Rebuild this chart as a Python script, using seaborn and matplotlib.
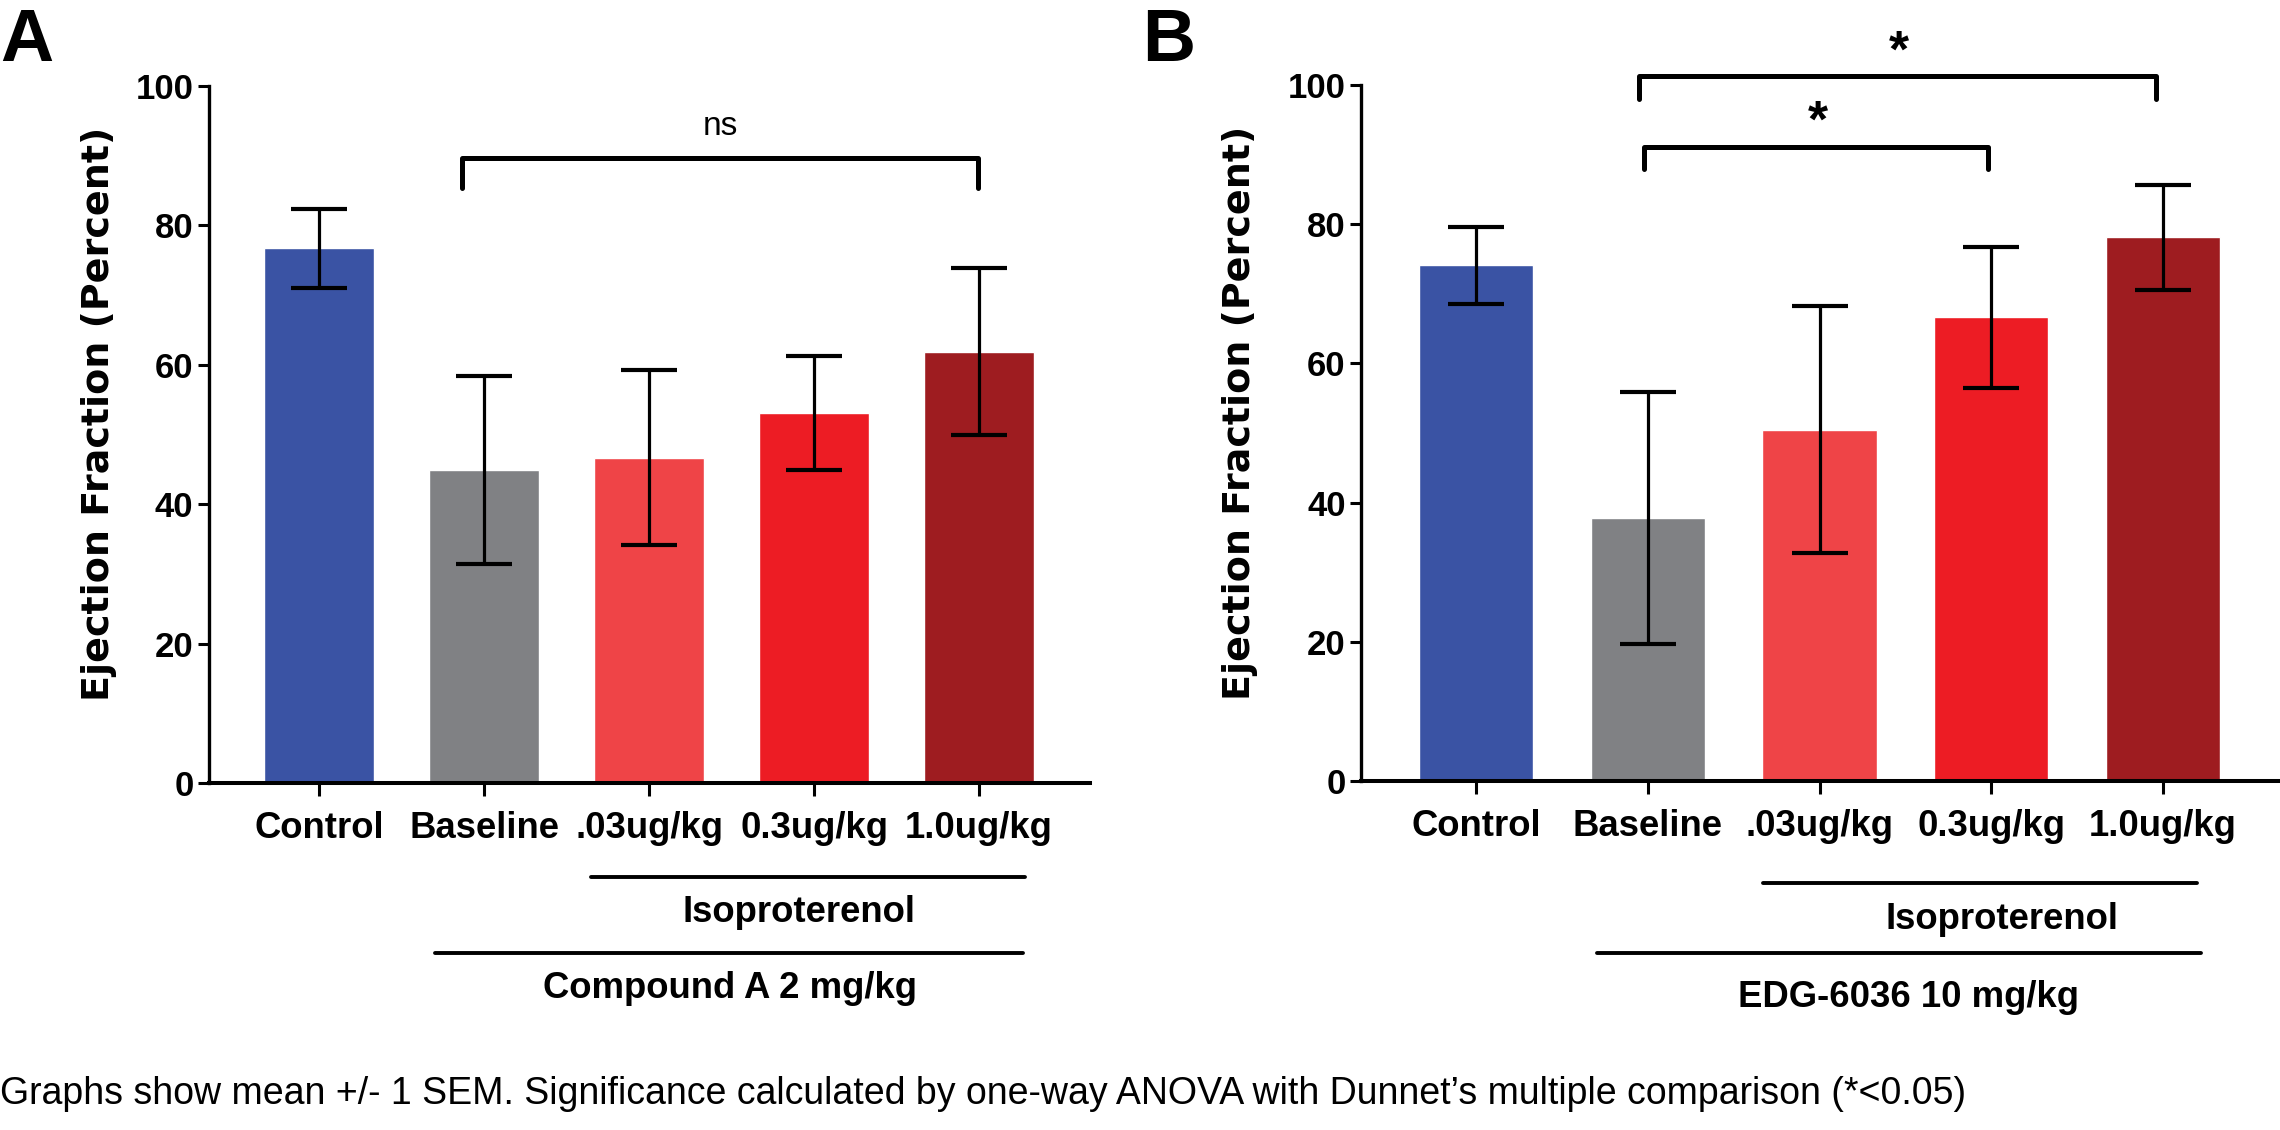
import matplotlib
matplotlib.use("Agg")
import matplotlib.pyplot as plt
import matplotlib.transforms as mtransforms
import seaborn as sns
import pandas as pd

# data
groups = ["Control", "Baseline", ".03ug/kg", "0.3ug/kg", "1.0ug/kg"]
colors = ["#3A53A4", "#808184", "#EF4447", "#ED1C24", "#9E1C20"]

mean_a = [76.7, 44.9, 46.7, 53.1, 61.9]
sem_a = [5.7, 13.5, 12.6, 8.2, 12.0]

mean_b = [74.1, 37.8, 50.5, 66.6, 78.1]
sem_b = [5.5, 18.1, 17.7, 10.1, 7.6]

yticks = [0, 20, 40, 60, 80, 100]

black = {"axes.edgecolor": "black", "text.color": "black", "xtick.color": "black",
         "ytick.color": "black", "axes.labelcolor": "black"}
sns.set_style("ticks", black)
plt.rcParams["font.family"] = ["Liberation Sans", "DejaVu Sans"]

fig = plt.figure(figsize=(22.8, 11.3), dpi=100)
axA = fig.add_axes([208.7 / 2280, 1 - 783 / 1130, 881 / 2280, 697 / 1130])
axB = fig.add_axes([1361 / 2280, 1 - 781 / 1130, 917 / 2280, 696 / 1130])


def draw_panel(ax, means, sems):
    df = pd.DataFrame({"group": groups, "ef": means})
    sns.barplot(data=df, x="group", y="ef", hue="group", palette=colors,
                width=0.667, legend=False, ax=ax, errorbar=None, saturation=1)
    ax.errorbar(range(len(groups)), means, yerr=sems, fmt="none", ecolor="black",
                elinewidth=2.3, capsize=20, capthick=3.0, clip_on=False)
    ax.set_xlim(-0.67, len(groups) - 0.33)
    ax.set_ylim(0, 100)
    ax.set_yticks(yticks)
    ax.set_xlabel("")
    ax.set_ylabel("Ejection Fraction (Percent)", family="DejaVu Sans",
                  fontweight="bold", fontsize=27.4)
    sns.despine(ax=ax)
    ax.spines["left"].set_linewidth(2.4)
    ax.spines["bottom"].set_linewidth(2.9)
    ax.tick_params(axis="y", length=8, width=2.2, pad=3, labelsize=25)
    ax.tick_params(axis="x", length=9.4, width=2.2, pad=10.5, labelsize=26.3)
    for lab in ax.get_xticklabels() + ax.get_yticklabels():
        lab.set_fontweight("bold")


def bracket(ax, x0, x1, top, leg, label, ty, tx, size, weight):
    ax.plot([x0, x0, x1, x1], [leg, top, top, leg], color="black", lw=3.6,
            clip_on=False, solid_joinstyle="round")
    ax.text(tx, ty, label, ha="center", va="center", fontsize=size,
            fontweight=weight, clip_on=False)


def group_line(ax, x0, x1, y_line, y_text, tx, label):
    trans = mtransforms.blended_transform_factory(ax.transData, ax.transAxes)
    ax.plot([x0, x1], [y_line, y_line], color="black", lw=2.8,
            transform=trans, clip_on=False)
    ax.text(tx, y_text, label, transform=trans, ha="center", va="baseline",
            fontsize=26.3, fontweight="bold")


draw_panel(axA, mean_a, sem_a)
axA.yaxis.set_label_coords(-0.104, 0.529)
bracket(axA, 0.863, 3.99, 89.6, 85.3, "ns", 94.2, 2.43, 24, "normal")
group_line(axA, 1.645, 4.28, -0.1344, -0.199, 2.905, "Isoproterenol")
group_line(axA, 0.70, 4.265, -0.244, -0.3085, 2.49, "Compound A 2 mg/kg")

draw_panel(axB, mean_b, sem_b)
axB.yaxis.set_label_coords(-0.112, 0.529)
bracket(axB, 0.95, 3.96, 101.3, 98.0, "*", 104.6, 2.46, 37, "bold")
bracket(axB, 0.98, 2.98, 91.1, 87.9, "*", 94.5, 1.99, 37, "bold")
group_line(axB, 1.67, 4.20, -0.146, -0.213, 3.06, "Isoproterenol")
group_line(axB, 0.706, 4.22, -0.247, -0.3243, 2.52, "EDG-6036 10 mg/kg")

fig.text(0.0, 1 - 61 / 1130, "A", fontsize=53, fontweight="bold",
         va="baseline", ha="left")
fig.text(0.501, 1 - 61 / 1130, "B", fontsize=53, fontweight="bold",
         va="baseline", ha="left")
fig.text(0.0, 0.032, "Graphs show mean +/- 1 SEM. Significance calculated by one-way "
         "ANOVA with Dunnet\u2019s multiple comparison (*<0.05)",
         fontsize=27, va="center", ha="left")

fig.savefig("out.png", dpi=100)
